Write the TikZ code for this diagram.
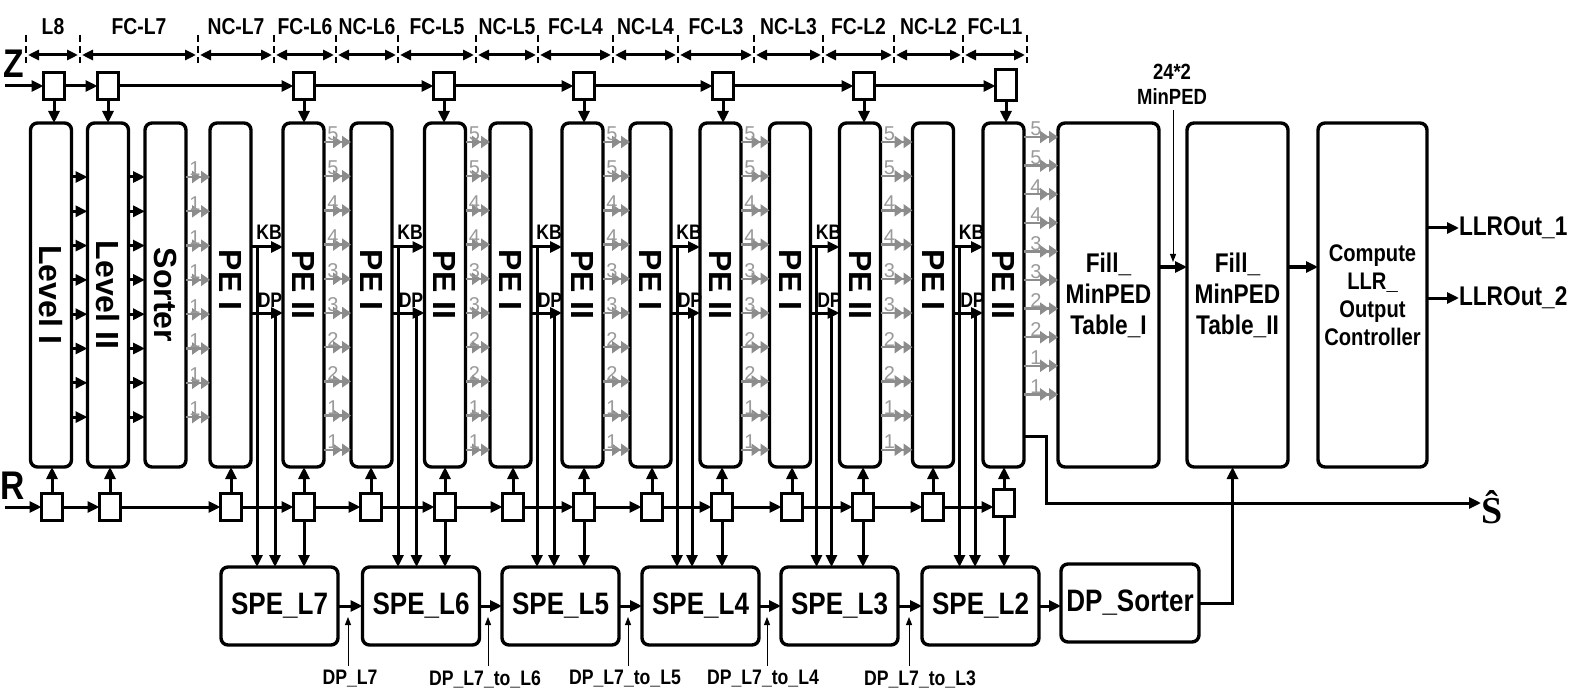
\documentclass[tikz,border=0pt]{standalone}
\usepackage{fontspec}
\setmainfont{Liberation Sans}
\newfontfamily\cond[FakeStretch=0.84]{Liberation Sans}
\newfontfamily\serifS{Liberation Serif}
\usetikzlibrary{arrows.meta,calc}
\definecolor{gline}{HTML}{8C8C8C}
\definecolor{gnumc}{HTML}{9A9A9A}
\begin{document}
\begin{tikzpicture}[x=0.5pt,y=-0.5pt,
  every node/.style={inner sep=0pt, outer sep=0pt},
  box/.style={draw, line width=1.7pt, rounded corners=3.5pt, fill=white},
  tall/.style={box, minimum width=20.5pt, minimum height=172pt, font=\bfseries\fontsize{16}{16}\selectfont},
  reg/.style={draw, line width=1.5pt, fill=white, minimum width=10.5pt, minimum height=13.5pt},
  spe/.style={box, minimum width=58.5pt, minimum height=39pt, font=\cond\bfseries\fontsize{15.5}{15.5}\selectfont},
  tbl/.style={box, minimum width=50.5pt, minimum height=172pt, align=center, font=\cond\bfseries\fontsize{13.5}{15.5}\selectfont},
  arr/.style={line width=1.5pt, -{Triangle[length=6pt,width=5.5pt]}},
  dim/.style={line width=1.5pt, {Triangle[length=5.5pt,width=5pt]}-{Triangle[length=5.5pt,width=5pt]}},
  tick/.style={line width=1.3pt, dash pattern=on 3.5pt off 2pt},
  thinarr/.style={line width=0.5pt, -{Triangle[length=4pt,width=3pt]}},
  garr/.style={line width=1.2pt, draw=gline, -{Triangle[length=4.5pt,width=6pt,color=gline]Triangle[length=4.5pt,width=6pt,color=gline]}},
  gnum/.style={font=\fontsize{10}{10}\selectfont, text=gnumc},
  hlab/.style={font=\cond\bfseries\fontsize{11.5}{11.5}\selectfont},
  slab/.style={font=\cond\bfseries\fontsize{10.5}{10.5}\selectfont},
]
\useasboundingbox[fill=white] (0,0) rectangle (1573,695);

% ---------- header ----------
\foreach \x in {26,80,198,274,336,398,476,538,613,678,754,823,894,963,1027}
  \draw[tick] (\x,35) -- (\x,63);
\foreach \a/\b/\t in {26/80/L8, 80/198/FC-L7, 198/274/NC-L7, 274/336/FC-L6, 336/398/NC-L6,
  398/476/FC-L5, 476/538/NC-L5, 538/613/FC-L4, 613/678/NC-L4, 678/754/FC-L3,
  754/823/NC-L3, 823/894/FC-L2, 894/963/NC-L2, 963/1027/FC-L1} {
  \draw[dim] (\a+2,55) -- (\b-2,55);
  \node[hlab] (h\a) at ({(\a+\b)/2},27) {\t};
}

% ---------- tall boxes ----------
\node[tall] (L1) at (51,295) {\rotatebox{-90}{Level I}};
\node[tall] (L2) at (108,295) {\rotatebox{-90}{Level II}};
\node[tall] (SO) at (165.5,295) {\rotatebox{-90}{Sorter}};
\foreach \i/\xa/\xb in {1/230.5/303.5, 2/371.5/445, 3/510.5/582.5, 4/650.5/720.5, 5/790/860, 6/933/1003.5} {
  \node[tall] (PEa\i) at (\xa,295) {\rotatebox{-90}{PE I\hspace{15pt}}};
  \node[tall] (PEb\i) at (\xb,295) {\rotatebox{-90}{PE II\hspace{10pt}}};
}
\node[tbl] (T1) at (1108.5,295) {Fill\_\\MinPED\\Table\_I};
\node[tbl] (T2) at (1237.5,295) {Fill\_\\MinPED\\Table\_II};
\node[tbl, minimum width=54.5pt, font=\cond\bfseries\fontsize{12}{14}\selectfont] (CL) at (1372.5,295) {Compute\\LLR\_\\Output\\Controller};

% ---------- Z registers ----------
\node[font=\cond\bfseries\fontsize{20}{20}\selectfont] (Zl) at (14,64) {Z};
\coordinate (Zin) at (5,86);
\foreach \n/\x in {1/54,2/108,3/304,4/444,5/584,6/723,7/864}
  \node[reg] (z\n) at (\x,86) {};
\node[reg, minimum height=15.5pt] (z8) at (1006,85) {};
\draw[arr] (Zin) -- (z1.west);
\foreach \a/\b in {1/2,2/3,3/4,4/5,5/6,6/7,7/8}
  \draw[arr] (z\a.east) -- (z\b.west |- z\a.east);
\draw[arr] (z1.south) -- (z1.south |- L1.north);
\draw[arr] (z2.south) -- (z2.south |- L2.north);
\foreach \n/\i in {3/1,4/2,5/3,6/4,7/5,8/6}
  \draw[arr] (z\n.south) -- (z\n.south |- PEb\i.north);

% ---------- R registers ----------
\node[font=\cond\bfseries\fontsize{20}{20}\selectfont] (Rl) at (13,486) {R};
\coordinate (Rin) at (5,507);
\node[reg] (rL1) at (52,507) {};
\node[reg] (rL2) at (110,507) {};
\foreach \i/\xa/\xb in {1/231/304, 2/371/445, 3/513/584, 4/652/722, 5/792/863} {
  \node[reg] (ra\i) at (\xa,507) {};
  \node[reg] (rb\i) at (\xb,507) {};
}
\node[reg] (ra6) at (933,507) {};
\node[reg] (rb6) at (1004,503) {};
\draw[arr] (Rin) -- (rL1.west);
\foreach \a/\b in {rL1/rL2, rL2/ra1, ra1/rb1, rb1/ra2, ra2/rb2, rb2/ra3, ra3/rb3, rb3/ra4, ra4/rb4, rb4/ra5, ra5/rb5, rb5/ra6, ra6/rb6}
  \draw[arr] (\a.east) -- (\b.west |- \a.east);
\draw[arr] (rL1.north) -- (rL1.north |- L1.south);
\draw[arr] (rL2.north) -- (rL2.north |- L2.south);
\foreach \i in {1,...,6} {
  \draw[arr] (ra\i.north) -- (ra\i.north |- PEa\i.south);
  \draw[arr] (rb\i.north) -- (rb\i.north |- PEb\i.south);
}

% ---------- black arrows between Level I / Level II / Sorter ----------
\foreach \k [evaluate=\k as \yy using 177+34.3*\k] in {0,...,7} {
  \draw[arr] (L1.east |- 0,\yy) -- (L2.west |- 0,\yy);
  \draw[arr] (L2.east |- 0,\yy) -- (SO.west |- 0,\yy);
  \draw[garr] (SO.east |- 0,\yy) -- (PEa1.west |- 0,\yy);
  \node[gnum] (g0\k) at ($(SO.east |- 0,\yy)+(9,-8)$) {1};
}

% ---------- gray bundles ----------
\foreach \i/\j in {1/2,2/3,3/4,4/5,5/6} {
  \foreach \k/\lab [evaluate=\k as \yy using 142+34.2*\k] in {0/5,1/5,2/4,3/4,4/3,5/3,6/2,7/2,8/1,9/1} {
    \draw[garr] (PEb\i.east |- 0,\yy) -- (PEa\j.west |- 0,\yy);
    \node[gnum] (g\i\k) at ($(PEb\i.east |- 0,\yy)+(9,-8)$) {\lab};
  }
}
\foreach \k/\lab [evaluate=\k as \yy using 137+28.6*\k] in {0/5,1/5,2/4,3/4,4/3,5/3,6/2,7/2,8/1,9/1} {
  \draw[garr] (PEb6.east |- 0,\yy) -- (T1.west |- 0,\yy);
  \node[gnum] (g6\k) at ($(PEb6.east |- 0,\yy)+(12,-8)$) {\lab};
}

% ---------- SPE row ----------
\foreach \i/\x/\t in {1/279.5/SPE\_L7, 2/421/SPE\_L6, 3/560.5/SPE\_L5, 4/700.5/SPE\_L4, 5/839.5/SPE\_L3, 6/980.5/SPE\_L2}
  \node[spe] (S\i) at (\x,606) {\t};
\node[spe, minimum width=69pt] (DPS) at (1130,603) {DP\_Sorter};
\foreach \a/\b in {1/2,2/3,3/4,4/5,5/6}
  \draw[arr] (S\a.east) -- (S\b.west);
\draw[arr] (S6.east) -- (DPS.west |- S6.east);
\draw[arr] (DPS.east) -| ($(T2.south)+(-5,0)$);

% ---------- KB / DP ----------
\foreach \i in {1,...,6} {
  \coordinate (kb\i) at ($(PEa\i.east |- 0,247)+(6,0)$);
  \coordinate (dp\i) at ($(PEb\i.west |- 0,313)+(-8,0)$);
  \draw[arr] (PEa\i.east |- 0,247) -- (PEb\i.west |- 0,247);
  \draw[arr] (PEa\i.east |- 0,313) -- (PEb\i.west |- 0,313);
  \draw[arr] (kb\i) -- (kb\i |- S\i.north);
  \draw[arr] (dp\i) -- (dp\i |- S\i.north);
  \draw[arr] (rb\i.south) -- (rb\i.south |- S\i.north);
  \node[slab] (kbl\i) at ($(PEa\i.east |- 0,247)+(18,-15)$) {KB};
  \node[slab] (dpl\i) at ($(PEa\i.east |- 0,313)+(19,-13)$) {DP};
}

% ---------- DP pointers ----------
\foreach \n/\xl/\xa/\t in {1/350/348/DP\_L7, 2/485/488/DP\_L7\_to\_L6, 3/625/628/DP\_L7\_to\_L5, 4/763/767/DP\_L7\_to\_L4, 5/920/909/DP\_L7\_to\_L3} {
  \node[slab] (dl\n) at (\xl,679) {\t};
  \coordinate (ps\n) at (\xa,666);
  \coordinate (pe\n) at (\xa,617);
  \draw[thinarr] (ps\n) -- (pe\n);
}

% ---------- right side ----------
\draw[arr] (T1.east |- 0,267) -- (T2.west |- 0,267);
\draw[arr] (T2.east |- 0,267) -- (CL.west |- 0,267);
\node[align=center, font=\cond\bfseries\fontsize{11}{12.5}\selectfont] (mp) at (1172,84) {24*2\\MinPED};
\coordinate (mpe) at (1173,262);
\draw[thinarr] (mpe |- mp.south) ++(0,6) -- (mpe);
\node[anchor=west, font=\cond\bfseries\fontsize{13.5}{13.5}\selectfont] (lo1) at (1459,228) {LLROut\_1};
\node[anchor=west, font=\cond\bfseries\fontsize{13.5}{13.5}\selectfont] (lo2) at (1459,298) {LLROut\_2};
\draw[arr] (CL.east |- lo1.west) -- (lo1.west);
\draw[arr] (CL.east |- lo2.west) -- (lo2.west);

% ---------- S hat ----------
\node[anchor=west, font=\serifS\bfseries\fontsize{19}{19}\selectfont] (Sh) at (1481,507) {Ŝ};
\coordinate (sc) at (1046,436);
\draw[arr] (PEb6.east |- sc) -- (sc) -- (sc |- 0,503) -- (Sh.west |- 0,503);
\end{tikzpicture}
\end{document}
